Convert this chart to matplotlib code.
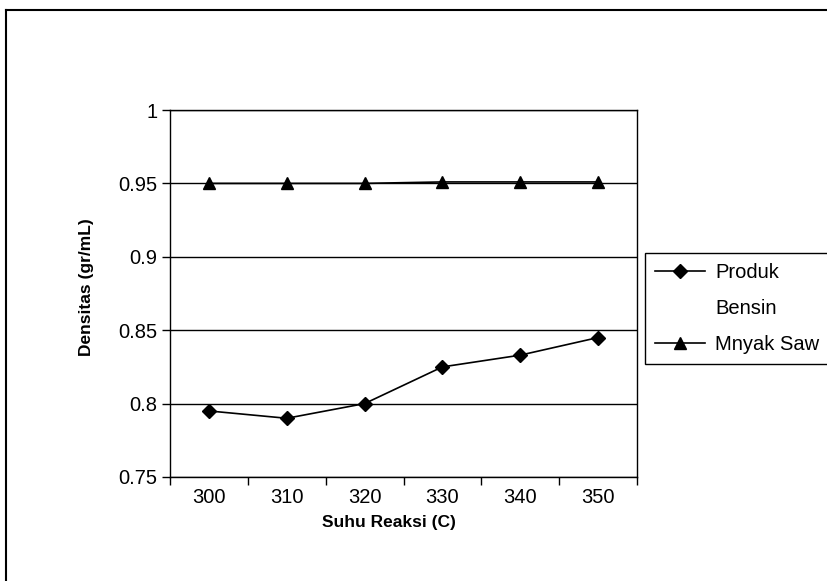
"""Densitas vs suhu reaksi: produk bensin vs minyak sawit."""
import numpy as np
import matplotlib
matplotlib.use("Agg")
import matplotlib.pyplot as plt
from matplotlib.lines import Line2D

suhu = ["300", "310", "320", "330", "340", "350"]
produk_bensin = [0.795, 0.790, 0.800, 0.825, 0.833, 0.845]
minyak_sawit = [0.950, 0.950, 0.950, 0.951, 0.951, 0.951]
y_ticks = [0.75, 0.8, 0.85, 0.9, 0.95, 1]
y_ticklabels = ["0.75", "0.8", "0.85", "0.9", "0.95", "1"]

plt.rcParams["font.family"] = ["Liberation Sans", "DejaVu Sans"]

fig = plt.figure(figsize=(8.27, 5.81), dpi=100)
W, H = 827, 581
ax = fig.add_axes([170 / W, 1 - 477 / H, (637 - 170) / W, (477 - 110) / H])

x = np.arange(len(suhu))
ax.plot(x, produk_bensin, color="black", lw=1.2, marker="D", ms=7,
        label="Produk")
ax.plot([], [], color="none", label="Bensin")   # second line of the label
ax.plot(x, minyak_sawit, color="black", lw=1.2, marker="^", ms=8,
        label="Mnyak Saw")

ax.set_xlim(-0.5, len(suhu) - 0.5)
ax.set_ylim(0.75, 1)
ax.set_yticks(y_ticks)
ax.set_yticklabels(y_ticklabels, fontsize=14.5)
ax.set_xticks(x)
ax.set_xticklabels(suhu, fontsize=14.5)
ax.tick_params(axis="x", length=0, pad=8)
# ticks between categories, like the spreadsheet chart
ax.set_xticks(np.arange(len(suhu) + 1) - 0.5, minor=True)
ax.tick_params(axis="x", which="minor", length=6, width=1, direction="out")
ax.tick_params(axis="y", length=6, width=1, direction="out", pad=3)
ax.grid(axis="y", color="black", lw=1)
for s in ax.spines.values():
    s.set_color("black")
    s.set_linewidth(1)

ax.set_xlabel("Suhu Reaksi (C)", fontsize=12.5, fontweight="bold")
ax.xaxis.set_label_coords((389 - 170) / (637 - 170), -(515 - 477) / (477 - 110))
ax.set_ylabel("Densitas (gr/mL)", fontsize=12.5, fontweight="bold")
ax.yaxis.set_label_coords(-(170 - 94) / (637 - 170), (477 - 287) / (477 - 110))

fig.legend(loc="upper left", bbox_to_anchor=(645 / W, 1 - 253 / H),
           frameon=True, fancybox=False, edgecolor="black", fontsize=14.5,
           handlelength=2.5, handletextpad=0.5, borderpad=0.5,
           borderaxespad=0, labelspacing=0.85, framealpha=1)

# outer chart frame (cut off on the right and bottom)
fig.add_artist(Line2D([6 / W, 6 / W], [0, 1 - 10 / H], color="black", lw=1.5,
                      transform=fig.transFigure))
fig.add_artist(Line2D([6 / W, 1], [1 - 10 / H, 1 - 10 / H], color="black",
                      lw=1.5, transform=fig.transFigure))

fig.savefig("out.png", dpi=100)
plt.close(fig)
